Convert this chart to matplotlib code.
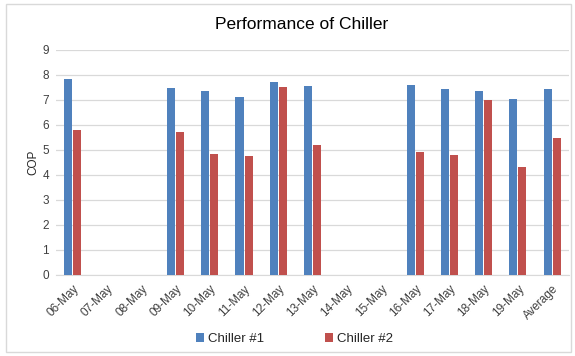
import numpy as np
import matplotlib
matplotlib.use("Agg")
import matplotlib.pyplot as plt
from matplotlib.patches import Rectangle

plt.rcParams['font.family'] = ['Liberation Sans', 'DejaVu Sans']

# COP per day, None where the chiller was not logged
days = ['06-May', '07-May', '08-May', '09-May', '10-May', '11-May', '12-May',
        '13-May', '14-May', '15-May', '16-May', '17-May', '18-May', '19-May', 'Average']
chiller1 = [7.83, None, None, 7.46, 7.35, 7.12, 7.72, 7.54, None, None, 7.58, 7.42, 7.35, 7.04, 7.42]
chiller2 = [5.81, None, None, 5.73, 4.83, 4.75, 7.50, 5.21, None, None, 4.90, 4.79, 6.99, 4.30, 5.47]

blue = '#4F81BD'
red = '#C0504D'

fig = plt.figure(figsize=(5.75, 3.56), dpi=100)
ax = fig.add_axes([0.097, 0.228, 0.893, 0.632])

x = np.arange(len(days))
w = 0.235
v1 = np.array([np.nan if v is None else v for v in chiller1])
v2 = np.array([np.nan if v is None else v for v in chiller2])
ax.bar(x - w / 2 - 0.015, v1, w, color=blue, label='Chiller #1', zorder=3)
ax.bar(x + w / 2 + 0.015, v2, w, color=red, label='Chiller #2', zorder=3)

ax.set_xlim(-0.5, len(days) - 0.5)
ax.set_ylim(0, 9)
ax.set_yticks(range(10))
ax.set_xticks(x)
ax.set_xticklabels(days, rotation=45, ha='right', rotation_mode='anchor')
ax.tick_params(axis='both', length=0, labelsize=8.5, colors='#404040', pad=5)
ax.tick_params(axis='x', pad=6)
ax.yaxis.grid(True, color='#D9D9D9', linewidth=0.9, zorder=0)
for s in ['left', 'right', 'top']:
    ax.spines[s].set_visible(False)
ax.spines['bottom'].set_color('#D9D9D9')

ax.set_ylabel('COP', fontsize=8.5, color='#262626', labelpad=2)
fig.text(0.525, 0.93, 'Performance of Chiller', ha='center', va='center',
         fontsize=12.5, color='#000000')

ax.legend(loc='center', bbox_to_anchor=(0.465, -0.286), ncol=2, frameon=False,
          fontsize=9.5, handlelength=0.6, handleheight=0.6, handletextpad=0.3,
          columnspacing=4.6, labelcolor='#262626')

# outer chart border
fig.patches.append(Rectangle((0.011, 0.011), 0.982, 0.977, transform=fig.transFigure,
                             fill=False, edgecolor='#D9D9D9', linewidth=1))

fig.savefig('out.png', dpi=100)
